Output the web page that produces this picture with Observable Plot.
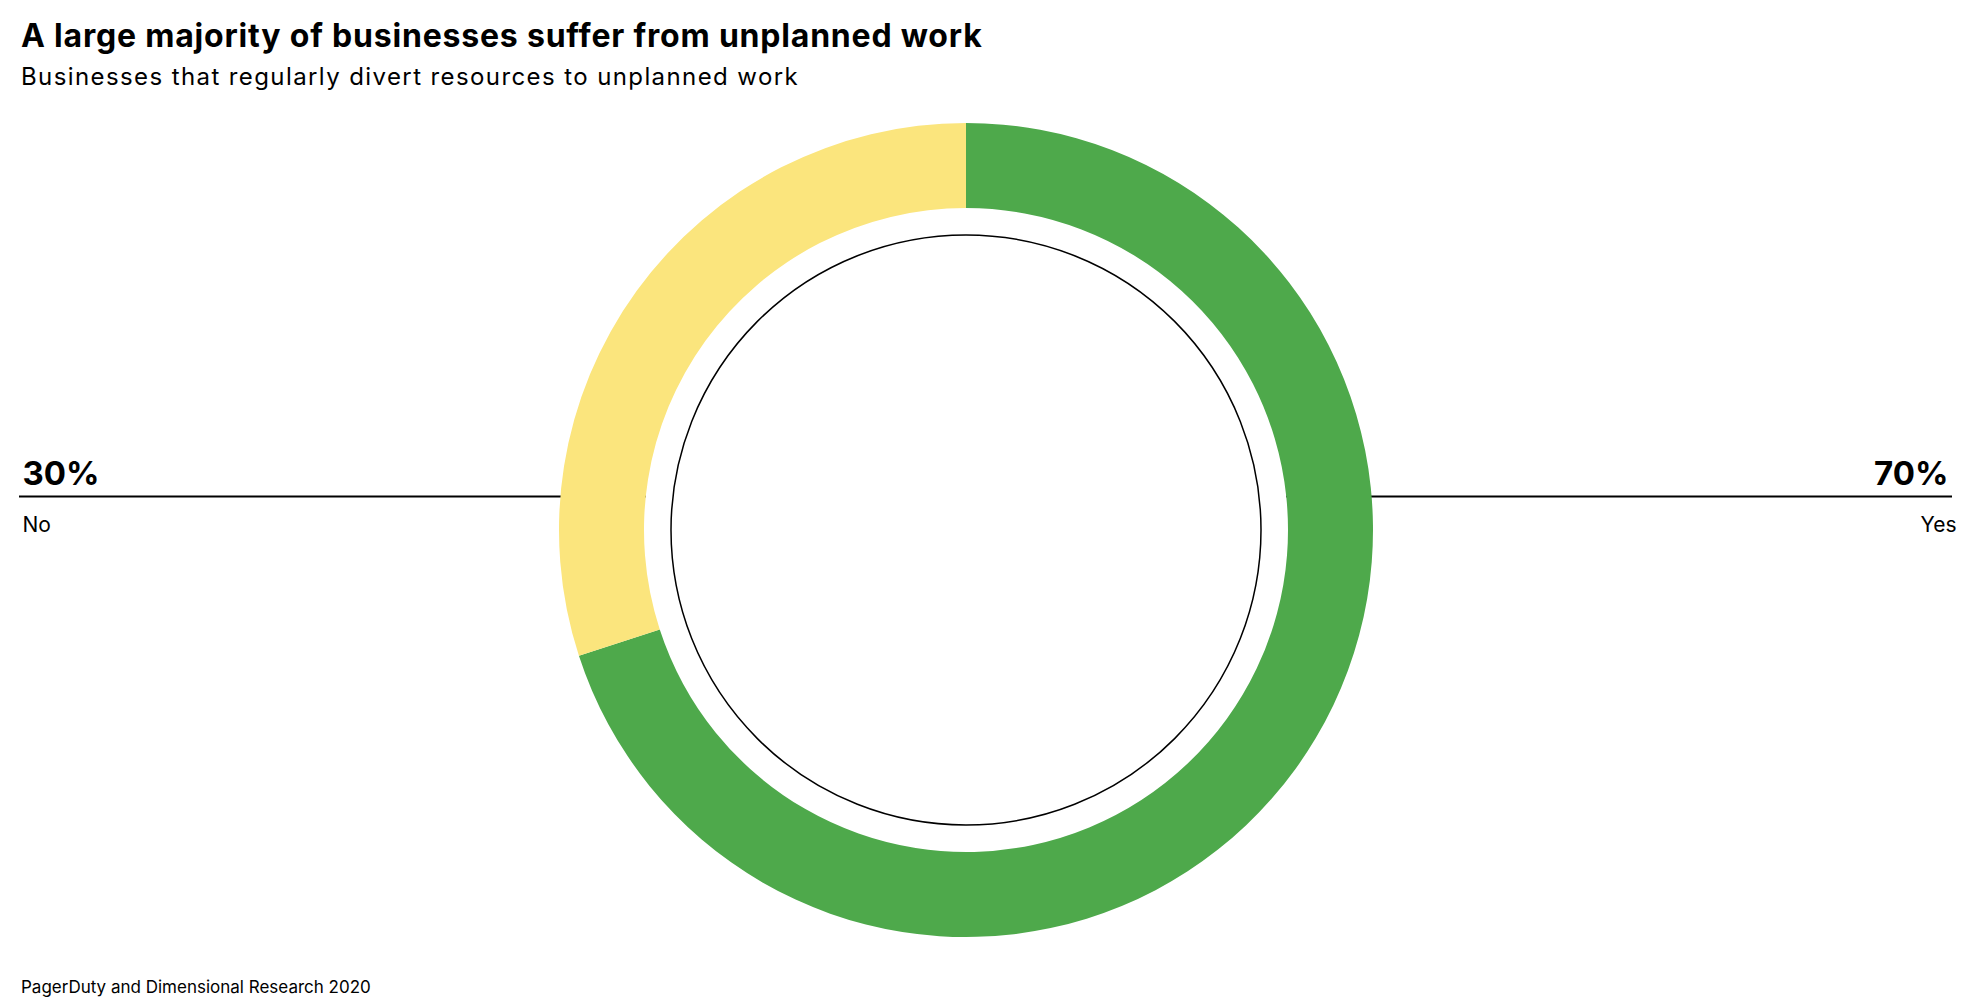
<!DOCTYPE html>
<html><head><meta charset="utf-8">
<script src="https://cdn.jsdelivr.net/npm/d3@7"></script>
<script src="https://cdn.jsdelivr.net/npm/@observablehq/plot@0.6"></script>
<style>
body{margin:0;background:#fff;width:1986px;height:1006px;position:relative;overflow:hidden}
.t{position:absolute;left:21px;white-space:nowrap;color:#000;line-height:1}
#title{font-family:Inter,sans-serif;font-weight:700;font-size:32px;top:20px;letter-spacing:0.8px}
#subtitle{font-family:Inter,sans-serif;font-size:24px;top:65px;letter-spacing:1.4px}
#footer{font-family:Inter,sans-serif;font-size:17px;top:979px}
#chart{position:absolute;left:0;top:100px}
</style></head><body>
<div id="title" class="t">A large majority of businesses suffer from unplanned work</div>
<div id="subtitle" class="t">Businesses that regularly divert resources to unplanned work</div>
<div id="chart"></div>
<div id="footer" class="t">PagerDuty and Dimensional Research 2020</div>
<script>
const categories = ["Yes", "No"];
const shares = [70, 30];
const shareLabels = ["70%", "30%"];
const sides = [1, 0];
const colors = ["#4ea94b", "#fbe57d"];

const data = categories.map((c, i) => ({category: c, share: shares[i], label: shareLabels[i], side: sides[i], color: colors[i]}));

const CX = 966;           // donut centre (px)
const INNER = 322 / 407;  // ring inner radius relative to outer
const CIRCLE = 295 / 407; // thin black circle radius relative to outer

function donut(index, scales) {
  const cy = scales.y(0);
  const R = Math.abs(scales.y(1) - scales.y(0));
  const pie = d3.pie().sort(null).value(d => d.share)(data);
  const arc = d3.arc().innerRadius(R * INNER).outerRadius(R);
  const g = d3.create("svg:g").attr("transform", `translate(${CX},${cy})`);
  g.append("circle").attr("r", R * INNER).attr("fill", "white");
  g.selectAll("path").data(pie).join("path").attr("d", arc).attr("fill", d => d.data.color);
  g.append("circle").attr("r", R * CIRCLE).attr("fill", "none").attr("stroke", "black").attr("stroke-width", 1.5);
  return g.node();
}

const pct = {fontFamily: "Inter", fontWeight: 700, fontSize: 33, fill: "black", lineAnchor: "bottom", dy: -46};
const cat = {fontFamily: "Inter", fontSize: 21, fill: "black", lineAnchor: "bottom", dy: 1};

const chart = Plot.plot({
  width: 1986, height: 870,
  marginLeft: 19, marginRight: 34, marginTop: 23, marginBottom: 33,
  x: {domain: [0, 1], axis: null},
  y: {domain: [-1, 1], axis: null},
  marks: [
    Plot.ruleY([0], {dy: -34, stroke: "black", strokeWidth: 2}),
    donut,
    Plot.text(data, {...pct, filter: d => d.side === 0, x: "side", y: () => 0, text: "label", textAnchor: "start", dx: 3}),
    Plot.text(data, {...pct, filter: d => d.side === 1, x: "side", y: () => 0, text: "label", textAnchor: "end", dx: -4}),
    Plot.text(data, {...cat, filter: d => d.side === 0, x: "side", y: () => 0, text: "category", textAnchor: "start", dx: 3}),
    Plot.text(data, {...cat, filter: d => d.side === 1, x: "side", y: () => 0, text: "category", textAnchor: "end", dx: 4})
  ]
});
document.getElementById("chart").appendChild(chart);
</script>
</body></html>
